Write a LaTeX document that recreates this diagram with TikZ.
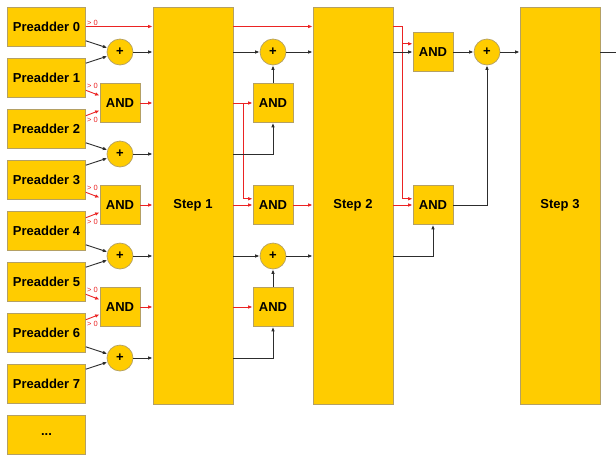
\documentclass[tikz,border=0pt]{standalone}
\usepackage{fontspec}
\setmainfont{Liberation Sans}
\definecolor{hwyellow}{RGB}{255,204,0}
\definecolor{hwedge}{RGB}{180,160,100}
\definecolor{hwred}{RGB}{235,35,35}
\definecolor{hwline}{RGB}{45,45,45}
\usetikzlibrary{arrows.meta,positioning,calc}

\begin{document}
\begin{tikzpicture}[x=1pt,y=-1pt,
  hwbox/.style={draw=hwedge,fill=hwyellow,line width=0.7pt,inner sep=1pt,
    font=\fontsize{13}{15}\selectfont\bfseries},
  preadd/.style={hwbox,minimum width=78pt,minimum height=39pt},
  andbox/.style={hwbox,minimum width=40pt,minimum height=39pt},
  addnode/.style={hwbox,circle,minimum size=26pt,font=\fontsize{13}{14}\selectfont\bfseries},
  stepbox/.style={hwbox,minimum width=80pt,minimum height=397pt},
  blk/.style={draw=hwline,line width=0.9pt,-{Latex[length=4.5pt,width=3.6pt]}},
  rd/.style={draw=hwred,line width=0.9pt,-{Latex[length=4.5pt,width=3.6pt]}},
  gtz/.style={font=\fontsize{7.5}{8}\selectfont,text=hwred,inner sep=0.8pt}
]
  \useasboundingbox (0,0) rectangle (616,456);
  % Preadders
  \node[preadd] (p0) at (46.5,26.5) {Preadder 0};
  \node[preadd] (p1) at (46.5,77.5) {Preadder 1};
  \node[preadd] (p2) at (46.5,128.5) {Preadder 2};
  \node[preadd] (p3) at (46.5,179.5) {Preadder 3};
  \node[preadd] (p4) at (46.5,230.5) {Preadder 4};
  \node[preadd] (p5) at (46.5,281.5) {Preadder 5};
  \node[preadd] (p6) at (46.5,332.5) {Preadder 6};
  \node[preadd] (p7) at (46.5,383.5) {Preadder 7};
  \node[preadd] (pdots) at (46.5,435) {...};
  % First column
  \node[addnode] (add1) at (120,52) {+};
  \node[andbox] (and1) at (120,103) {AND};
  \node[addnode] (add2) at (120,154) {+};
  \node[andbox] (and2) at (120,205) {AND};
  \node[addnode] (add3) at (120,256) {+};
  \node[andbox] (and3) at (120,307) {AND};
  \node[addnode] (add4) at (120,358) {+};
  % Steps
  \node[stepbox] (step1) at (193,205.5) {Step 1};
  \node[stepbox] (step2) at (353,205.5) {Step 2};
  \node[stepbox] (step3) at (560,205.5) {Step 3};
  % Second column
  \node[addnode] (add5) at (273,52) {+};
  \node[andbox] (and4) at (273,103) {AND};
  \node[andbox] (and5) at (273,205) {AND};
  \node[addnode] (add6) at (273,256) {+};
  \node[andbox] (and6) at (273,307) {AND};
  % Third column
  \node[andbox] (and7) at (433,52) {AND};
  \node[andbox] (and8) at (433,205) {AND};
  \node[addnode] (add7) at (487,52) {+};
  \coordinate (br1) at ($(step1.east |- and4)+(10,0)$);
  \coordinate (br2) at ($(step2.east |- p0)+(9,0)$);
  \coordinate (outr) at (616,52);

  % Preadders into first column
  \draw[rd] (p0.east) -- node[gtz,pos=0,anchor=south west]{> 0} (step1.west |- p0.east);
  \draw[blk] (p0.-20) -- (add1);
  \draw[blk] (p1.20) -- (add1);
  \draw[rd] (p1.-18) -- node[gtz,pos=0,anchor=south west]{> 0} (and1.160);
  \draw[rd] (p2.18) -- node[gtz,pos=0,anchor=north west]{> 0} (and1.200);
  \draw[blk] (p2.-20) -- (add2);
  \draw[blk] (p3.20) -- (add2);
  \draw[rd] (p3.-18) -- node[gtz,pos=0,anchor=south west]{> 0} (and2.160);
  \draw[rd] (p4.18) -- node[gtz,pos=0,anchor=north west]{> 0} (and2.200);
  \draw[blk] (p4.-20) -- (add3);
  \draw[blk] (p5.20) -- (add3);
  \draw[rd] (p5.-18) -- node[gtz,pos=0,anchor=south west]{> 0} (and3.160);
  \draw[rd] (p6.18) -- node[gtz,pos=0,anchor=north west]{> 0} (and3.200);
  \draw[blk] (p6.-20) -- (add4);
  \draw[blk] (p7.20) -- (add4);
  % First column into Step 1
  \draw[blk] (add1) -- (step1.west |- add1);
  \draw[rd] (and1) -- (step1.west |- and1);
  \draw[blk] (add2) -- (step1.west |- add2);
  \draw[rd] (and2) -- (step1.west |- and2);
  \draw[blk] (add3) -- (step1.west |- add3);
  \draw[rd] (and3) -- (step1.west |- and3);
  \draw[blk] (add4) -- (step1.west |- add4);

  % Step 1 to Step 2
  \draw[rd] (step1.east |- p0.east) -- (step2.west |- p0.east);
  \draw[blk] (step1.east |- add5) -- (add5);
  \draw[rd] (step1.east |- and4) -- (and4);
  \draw[rd] (br1) |- (and5.163);
  \draw[blk] (step1.east |- add2) -| (and4.south);
  \draw[blk] (and4.north) -- (add5.south);
  \draw[blk] (add5) -- (step2.west |- add5);
  \draw[rd] (step1.east |- and5) -- (and5);
  \draw[rd] (and5) -- (step2.west |- and5);
  \draw[blk] (step1.east |- add6) -- (add6);
  \draw[rd] (step1.east |- and6) -- (and6);
  \draw[blk] (step1.east |- add4) -| (and6.south);
  \draw[blk] (and6.north) -- (add6.south);
  \draw[blk] (add6) -- (step2.west |- add6);

  % Step 2 to Step 3
  \draw[rd] (step2.east |- p0) -- (br2) |- (and7.158);
  \draw[rd] (br2) |- (and8.163);
  \draw[blk] (step2.east |- and7) -- (and7);
  \draw[rd] (step2.east |- and8) -- (and8);
  \draw[blk] (step2.east |- add6) -| (and8.south);
  \draw[blk] (and7) -- (add7);
  \draw[blk] (and8.east) -| (add7.south);
  \draw[blk] (add7) -- (step3.west |- add7);
  \draw[draw=hwline,line width=0.9pt] (step3.east |- add7) -- (outr);
\end{tikzpicture}
\end{document}
